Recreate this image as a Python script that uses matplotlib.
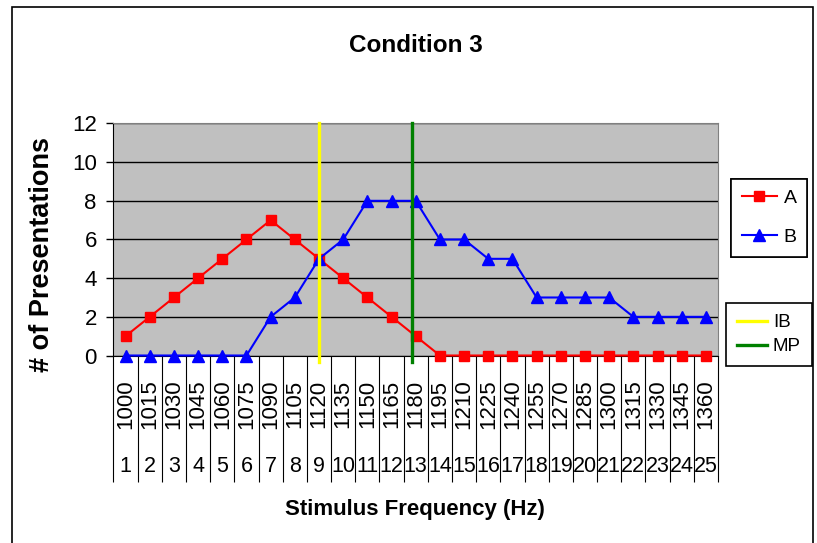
import matplotlib
matplotlib.use("Agg")
import matplotlib.pyplot as plt
from matplotlib.patches import Rectangle

plt.rcParams['font.family'] = ['Liberation Sans', 'DejaVu Sans']

# データ
idx = list(range(1, 26))
freqs = [1000, 1015, 1030, 1045, 1060, 1075, 1090, 1105, 1120, 1135, 1150, 1165, 1180,
         1195, 1210, 1225, 1240, 1255, 1270, 1285, 1300, 1315, 1330, 1345, 1360]
a_vals = [1, 2, 3, 4, 5, 6, 7, 6, 5, 4, 3, 2, 1, 0, 0, 0, 0, 0, 0, 0, 0, 0, 0, 0, 0]
b_vals = [0, 0, 0, 0, 0, 0, 2, 3, 5, 6, 8, 8, 8, 6, 6, 5, 5, 3, 3, 3, 3, 2, 2, 2, 2]
ib_pos = 9
mp_pos = 12.85

fig = plt.figure(figsize=(8.17, 5.43), dpi=100)
ax = fig.add_axes([0.1389, 0.3453, 0.7399, 0.4273])
ax.set_facecolor('#C0C0C0')

la, = ax.plot(idx, a_vals, color='red', marker='s', markersize=7, lw=1.5, label='A', clip_on=False, zorder=4)
lb, = ax.plot(idx, b_vals, color='blue', marker='^', markersize=8, lw=1.5, label='B', clip_on=False, zorder=4)
lib = ax.axvline(ib_pos, ymin=-0.03, ymax=1, color='#FFFF00', lw=2.4, label='IB', clip_on=False, zorder=5)
lmp = ax.axvline(mp_pos, ymin=-0.03, ymax=1, color='#008000', lw=2.4, label='MP', clip_on=False, zorder=5)

ax.set_xlim(0.5, 25.5)
ax.set_ylim(0, 12)
ax.set_yticks(range(0, 13, 2))
ax.yaxis.grid(True, color='black', lw=1)
ax.set_axisbelow(True)
ax.tick_params(axis='y', direction='out', length=5, width=1, pad=7, labelsize=16)

# category separators as long ticks
ax.set_xticks([i + 0.5 for i in range(0, 26)])
ax.set_xticklabels([])
ax.tick_params(axis='x', direction='out', length=91, width=0.8, color='black')

for sp in ['top', 'right']:
    ax.spines[sp].set_color('#808080')
for sp in ['left', 'bottom']:
    ax.spines[sp].set_color('black')

tr = ax.get_xaxis_transform()
for i, f in zip(idx, freqs):
    ax.text(i, -0.21, str(f), rotation=90, ha='center', va='center', fontsize=16, transform=tr)
    ax.text(i, -0.48, str(i), ha='center', va='center', fontsize=15.5, transform=tr)

fig.text(0.509, 0.917, 'Condition 3', ha='center', va='center', fontsize=17.5, fontweight='bold')
fig.text(0.508, 0.061, 'Stimulus Frequency (Hz)', ha='center', va='center', fontsize=16, fontweight='bold')
fig.text(0.051, 0.532, '# of Presentations', ha='center', va='center', rotation=90,
         fontsize=19.5, fontweight='bold')

leg1 = fig.legend(handles=[la, lb], loc='upper left', bbox_to_anchor=(731 / 817, 1 - 179 / 543),
                  fontsize=14, frameon=True, fancybox=False, edgecolor='black', framealpha=1,
                  handlelength=1.8, handletextpad=0.35, labelspacing=1.1, borderpad=0.55,
                  borderaxespad=0)
leg1.get_frame().set_linewidth(1.2)
leg2 = fig.legend(handles=[lib, lmp], loc='upper left', bbox_to_anchor=(726 / 817, 1 - 303 / 543),
                  fontsize=13.5, frameon=True, fancybox=False, edgecolor='black', framealpha=1,
                  handlelength=1.6, handletextpad=0.3, labelspacing=0.35, borderpad=0.6,
                  borderaxespad=0)
leg2.get_frame().set_linewidth(1.2)
fig.add_artist(leg1)

fig.patches.append(Rectangle((12 / 817, -0.02), (813 - 12) / 817, 1 - 7 / 543 + 0.02,
                             transform=fig.transFigure, fill=False, edgecolor='black', lw=1.2))

fig.savefig('out.png', dpi=100)
